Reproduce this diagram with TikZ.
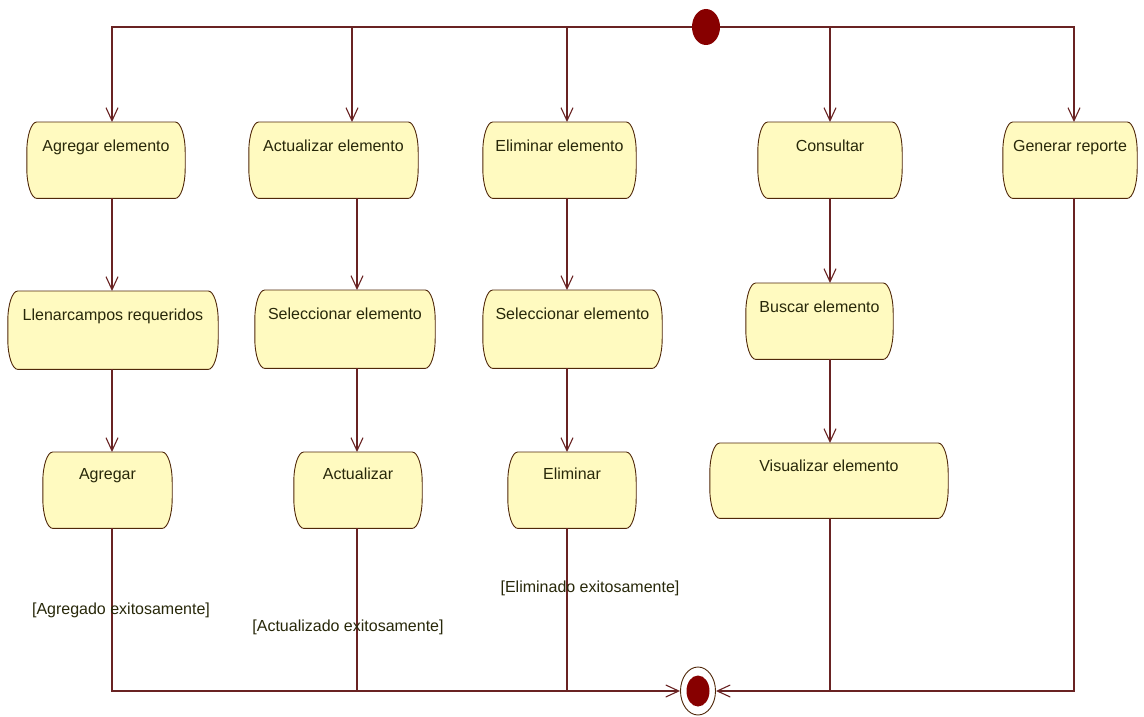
\documentclass[tikz,border=0pt]{standalone}
\usepackage{fontspec}
\setmainfont{Liberation Sans}
\usetikzlibrary{arrows.meta,shapes.geometric,backgrounds}
\definecolor{actfill}{RGB}{255,250,192}
\definecolor{actborder}{RGB}{80,40,10}
\definecolor{linec}{RGB}{105,35,35}
\definecolor{txtc}{RGB}{40,40,10}
\definecolor{dotred}{RGB}{135,0,0}
\newcommand\actbox[1]{%
  \path[actshape] ([xshift=10pt]#1.north west) -- ([xshift=-10pt]#1.north east)
    arc[start angle=90,end angle=0,x radius=10pt,y radius=30pt]
    -- ([yshift=30pt]#1.south east)
    arc[start angle=0,end angle=-90,x radius=10pt,y radius=30pt]
    -- ([xshift=10pt]#1.south west)
    arc[start angle=270,end angle=180,x radius=10pt,y radius=30pt]
    -- ([yshift=-30pt]#1.north west)
    arc[start angle=180,end angle=90,x radius=10pt,y radius=30pt] -- cycle;}
\begin{document}
\begin{tikzpicture}[x=1pt,y=1pt,
  act/.style={anchor=north,inner xsep=0pt,inner ysep=0pt,text height=29pt,text depth=47pt,
    font=\fontsize{16}{19}\selectfont,text=txtc},
  actshape/.style={draw=actborder,line width=0.9pt,fill=actfill},
  flow/.style={draw=linec,line width=1.1pt,-{Straight Barb[length=13pt,width=12pt]}},
  plain/.style={draw=linec,line width=1.1pt},
  lbl/.style={font=\fontsize{16}{19}\selectfont,text=txtc,inner sep=0pt}]
\useasboundingbox (0,0) rectangle (1144,-717);
% columns
\coordinate (k1) at (112,-27);
\coordinate (k2) at (352,-27);
\coordinate (k3) at (567,-27);
\coordinate (k4) at (830,-27);
\coordinate (k5) at (1074,-27);
\coordinate (m2) at (357,-27);
% start
\node[ellipse,fill=dotred,minimum width=28pt,minimum height=36pt,inner sep=0pt] (start) at (706,-27) {};
% row 1
\node[act,minimum width=158pt] (ae) at (106,-122) {Agregar elemento};
\node[act,minimum width=169pt] (acte) at (333.5,-122) {Actualizar elemento};
\node[act,minimum width=153pt] (ele) at (559.5,-122) {Eliminar elemento};
\node[act,minimum width=144pt] (con) at (830,-122) {Consultar};
\node[act,minimum width=134pt] (gen) at (1070,-122) {Generar reporte};
% row 2
\node[act,minimum width=210pt,text depth=49pt] (llen) at (113,-291) {Llenarcampos requeridos};
\node[act,minimum width=180pt,text depth=49pt] (sel1) at (345,-290) {Seleccionar elemento};
\node[act,minimum width=179pt,text depth=49pt] (sel2) at (572.5,-290) {Seleccionar elemento};
\node[act,minimum width=147pt] (bus) at (819.5,-283) {Buscar elemento};
% row 3
\node[act,minimum width=129pt,text height=27pt,text depth=49pt] (agr) at (107.5,-452) {Agregar};
\node[act,minimum width=128pt,text height=27pt,text depth=49pt] (act) at (358,-452) {Actualizar};
\node[act,minimum width=128pt,text height=27pt,text depth=49pt] (eli) at (572,-452) {Eliminar};
\node[act,minimum width=238pt,text height=28pt,text depth=47pt] (vis) at (829,-443) {Visualizar elemento};
% end
\node[ellipse,draw=actborder,line width=0.9pt,fill=white,minimum width=35pt,minimum height=48pt,inner sep=0pt] (end) at (698,-691) {};
\node[ellipse,fill=dotred,minimum width=23pt,minimum height=31pt,inner sep=0pt] (endin) at (end.center) {};
% bottom junctions
\coordinate (b2) at (357,-690);
\coordinate (b3) at (567,-690);
\coordinate (b4) at (830,-690);
% shapes on background
\begin{scope}[on background layer]
  \fill[white] (0,0) rectangle (1144,-717);
  \foreach \n in {ae,acte,ele,con,gen,llen,sel1,sel2,bus,agr,act,eli,vis} {\actbox{\n}}
\end{scope}
% top connectors
\draw[flow] (start) -| (ae.north -| k1);
\draw[flow] (start) -| (acte.north -| k2);
\draw[flow] (start) -| (ele.north -| k3);
\draw[flow] (start) -| (con.north -| k4);
\draw[flow] (start) -| (gen.north -| k5);
% vertical connectors
\draw[flow] (ae.south -| k1) -- (llen.north -| k1);
\draw[flow] (llen.south -| k1) -- (agr.north -| k1);
\draw[flow] (acte.south -| m2) -- (sel1.north -| m2);
\draw[flow] (sel1.south -| m2) -- (act.north -| m2);
\draw[flow] (ele.south -| k3) -- (sel2.north -| k3);
\draw[flow] (sel2.south -| k3) -- (eli.north -| k3);
\draw[flow] (con.south -| k4) -- (bus.north -| k4);
\draw[flow] (bus.south -| k4) -- (vis.north -| k4);
% bottom connectors
\draw[flow] (agr.south -| k1) |- (end);
\draw[flow] (gen.south -| k5) |- (end);
\draw[plain] (act.south -| m2) -- (b2);
\draw[plain] (eli.south -| k3) -- (b3);
\draw[plain] (vis.south -| k4) -- (b4);
% guard labels
\node[lbl] (l1) at (121,-610) {[Agregado exitosamente]};
\node[lbl] (l2) at (348,-627) {[Actualizado exitosamente]};
\node[lbl] (l3) at (590,-588) {[Eliminado exitosamente]};
\end{tikzpicture}
\end{document}
